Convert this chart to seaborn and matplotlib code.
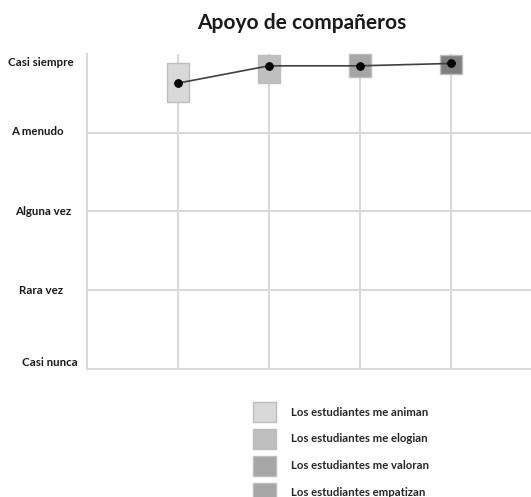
import matplotlib
matplotlib.use("Agg")
import matplotlib.pyplot as plt
from matplotlib.patches import Patch
from matplotlib.transforms import ScaledTranslation
import seaborn as sns
import pandas as pd

# Survey items (one per category position)
items = [
    "Los estudiantes me animan",
    "Los estudiantes me elogian",
    "Los estudiantes me valoran",
    "Los estudiantes empatizan",
]
# Mean answer on the 1-5 frequency scale
means = [4.63, 4.85, 4.85, 4.88]
# Spread shown as a box around each mean
box_low = [4.39, 4.63, 4.71, 4.75]
box_high = [4.88, 4.99, 5.00, 4.99]
box_colors = ["#d9d9d9", "#bfbfbf", "#a6a6a6", "#7f7f7f"]
legend_colors = ["#d9d9d9", "#bfbfbf", "#a6a6a6", "#a6a6a6"]

scale_values = [1, 2, 3, 4, 5]
scale_labels = ["Casi nunca", "Rara vez", "Alguna vez", "A menudo", "Casi siempre"]

sns.set_theme(style="white")
plt.rcParams["font.family"] = ["Lato", "DejaVu Sans"]

df = pd.DataFrame({"pos": range(len(items)), "item": items, "mean": means,
                   "low": box_low, "high": box_high})

DPI = 100
fig = plt.figure(figsize=(5.31, 4.97), dpi=DPI)
ax = fig.add_axes([87 / 531, 1 - 369 / 497, 1 - 87 / 531, (369 - 54) / 497])

grid_col = "#d9d9d9"
ax.set_axisbelow(True)

# Boxes spanning low..high for each item
ax.bar(df["pos"], df["high"] - df["low"], bottom=df["low"], width=0.25,
       color=box_colors, edgecolor="#bdbdbd", linewidth=1.0, zorder=2,
       clip_on=False)

# Line through the means
sns.lineplot(data=df, x="pos", y="mean", ax=ax, color="#404040", linewidth=1.2,
             marker="o", markersize=5.5, markerfacecolor="black",
             markeredgecolor="black", zorder=3, clip_on=False)

ax.set_xlim(-1, 3.88)
ax.set_ylim(1, 5)
ax.set_xticks(range(len(items)))
ax.set_xticklabels([])
ax.set_yticks(scale_values)
ax.set_yticklabels(scale_labels)
ax.set_xlabel("")
ax.set_ylabel("")

ax.grid(True, axis="both", color=grid_col, linewidth=1.5)
ax.yaxis.get_gridlines()[-1].set_visible(False)
ax.yaxis.get_gridlines()[0].set_visible(False)

ax.tick_params(axis="x", length=0)
ax.tick_params(axis="y", length=0, pad=32.4, labelsize=8.3)

# small per-label nudges (pixels): x right, y up
nudges = [(8, 7), (-1.5, 0), (1, 0), (-4.5, 1.5), (-1, -9)]
for lab, (dx, dy) in zip(ax.get_yticklabels(), nudges):
    lab.set_horizontalalignment("center")
    lab.set_verticalalignment("center")
    lab.set_fontweight("bold")
    lab.set_color("#1a1a1a")
    lab.set_transform(lab.get_transform() +
                      ScaledTranslation(dx / DPI, dy / DPI, fig.dpi_scale_trans))

for side in ["top", "right"]:
    ax.spines[side].set_visible(False)
for side in ["left", "bottom"]:
    ax.spines[side].set_color(grid_col)
    ax.spines[side].set_linewidth(1.5)

fig.text(302 / 531, 1 - 23 / 497, "Apoyo de compañeros", ha="center",
         va="center", fontsize=15, fontweight="bold", color="#1a1a1a")

handles = [Patch(facecolor=c, edgecolor="#bdbdbd", linewidth=1.0)
           for c in legend_colors]
fig.legend(handles, items, loc="upper left",
           bbox_to_anchor=(253 / 531, 1 - 402 / 497), frameon=False,
           borderpad=0, borderaxespad=0, handlelength=2.02, handleheight=2.32,
           labelspacing=0.615, handletextpad=1.32,
           prop={"size": 8.2, "weight": "bold"})

fig.savefig("out.png", dpi=DPI)
